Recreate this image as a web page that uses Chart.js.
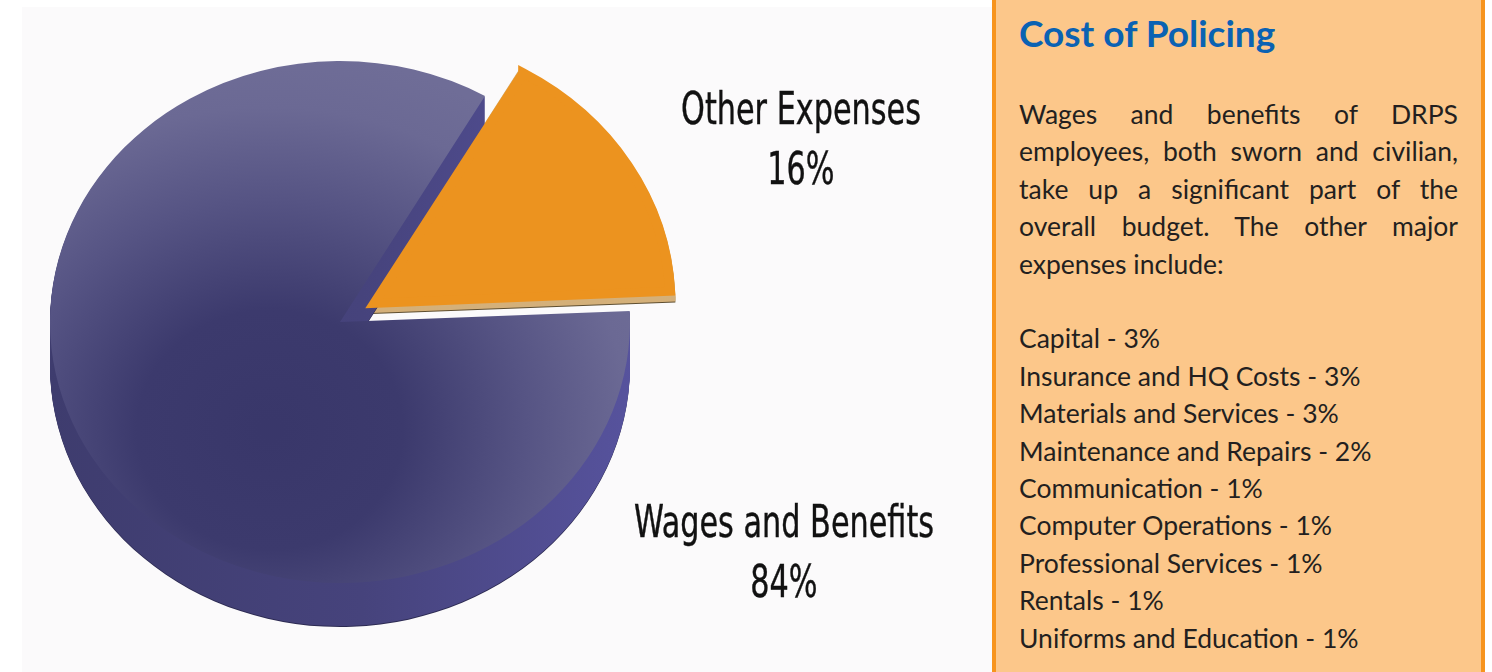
<!DOCTYPE html>
<html>
<head>
<meta charset="utf-8">
<script src="https://cdn.jsdelivr.net/npm/chart.js@4/dist/chart.umd.min.js"></script>
<style>
  html, body { margin: 0; padding: 0; background: #fff; }
  #page { position: relative; width: 1492px; height: 672px; overflow: hidden; background: #fff; }
  #stage { position: absolute; left: 22px; top: 7px; width: 970px; height: 665px; background: #fbfafb; }
  #pieBox { position: absolute; left: -35px; top: -53px; width: 750px; height: 750px; }
  .lbl {
    position: absolute; width: 400px; text-align: center;
    font-family: 'Liberation Sans Narrow', 'DejaVu Sans Condensed', sans-serif;
    font-size: 44px; line-height: 60px; color: #111;
    transform: scaleX(0.765); transform-origin: center;
    -webkit-text-stroke: 0.4px #111;
  }
  #panel {
    position: absolute; left: 992px; top: -10px; width: 485px; height: 700px;
    background: #fcc78a; border-left: 4px solid #f7941d; border-right: 4px solid #f7941d;
  }
  #title {
    position: absolute; left: 1019px; top: 11px;
    font-family: Lato, 'Open Sans', sans-serif; font-weight: 700; font-size: 37px; line-height: 1.2;
    color: #0a62b3; white-space: nowrap;
  }
  #body {
    position: absolute; left: 1019px; top: 96px; width: 439px;
    font-family: Lato, 'Open Sans', sans-serif; font-size: 26.5px; line-height: 37.4px;
    color: #231f20;
  }
  #body .jl { text-align: justify; text-align-last: justify; white-space: nowrap; }
  #body ul { list-style: none; margin: 37.4px 0 0 0; padding: 0; white-space: nowrap; }
</style>
</head>
<body>
<div id="page">
  <div id="stage"></div>
  <div id="pieBox"><canvas id="chartPie"></canvas></div>
  <div class="lbl" id="lblOther" style="left:601px; top:79px;"></div>
  <div class="lbl" id="lblWages" style="left:584px; top:492px;"></div>

  <div id="panel"></div>
  <div id="title"></div>
  <div id="body"><div id="intro"></div><ul id="breakdown"></ul></div>
</div>

<script>
// ── data ──────────────────────────────
const PIE_LABELS = ['Other Expenses', 'Wages and Benefits'];
const PIE_SHARES = [16, 84];

const PANEL_TITLE = 'Cost of Policing';
// intro paragraph, one entry per printed line
const PANEL_INTRO = [
  'Wages and benefits of DRPS',
  'employees, both sworn and civilian,',
  'take up a significant part of the',
  'overall budget. The other major',
  'expenses include:',
];
const EXP_NAMES = ['Capital', 'Insurance and HQ Costs', 'Materials and Services', 'Maintenance and Repairs',
                   'Communication', 'Computer Operations', 'Professional Services', 'Rentals', 'Uniforms and Education'];
const EXP_SHARES = [3, 3, 3, 2, 1, 1, 1, 1, 1];

// ── text side ─────────────────────────
document.getElementById('lblOther').innerHTML = `${PIE_LABELS[0]}<br>${PIE_SHARES[0]}%`;
document.getElementById('lblWages').innerHTML = `${PIE_LABELS[1]}<br>${PIE_SHARES[1]}%`;
document.getElementById('title').textContent = PANEL_TITLE;
document.getElementById('intro').innerHTML = PANEL_INTRO
  .map((l, i) => `<div class="${i < PANEL_INTRO.length - 1 ? 'jl' : ''}">${l}</div>`).join('');
document.getElementById('breakdown').innerHTML = EXP_NAMES.map((n, i) => `<li>${n} - ${EXP_SHARES[i]}%</li>`).join('');

// ── pie ───────────────────────────────
const SQUASH = 0.9;          // vertical tilt of the disc
const ORANGE = '#ec931f';

function blueFace(chart) {
  const a = chart.chartArea;
  if (!a) return '#4a4880';
  const cx = (a.left + a.right) / 2, cy = (a.top + a.bottom) / 2;
  const g = chart.ctx.createRadialGradient(cx - 70, cy + 120, 10, cx - 70, cy + 120, 420);
  g.addColorStop(0, '#39376a');
  g.addColorStop(0.3, '#3c3a6d');
  g.addColorStop(0.6, '#565484');
  g.addColorStop(0.85, '#6b6994');
  g.addColorStop(1, '#6f6d97');
  return g;
}

// same shift Chart.js applies to an exploded arc (ArcElement.draw)
function arcShift(arc) {
  const off = (arc.options.offset || 0) / 4;
  const circ = arc.endAngle - arc.startAngle;
  const fix = 1 - Math.sin(Math.min(Math.PI, circ || 0));
  return { move: off, grow: off * fix };
}

// fake 3D: extrude each slice downwards, then squash the faces into an ellipse
const pie3d = {
  id: 'pie3d',
  beforeDatasetsDraw(chart, args, opts) {
    const ctx  = chart.ctx;
    const meta = chart.getDatasetMeta(0);
    const cx = meta.data[0].x, cy = meta.data[0].y;
    const a  = chart.chartArea;

    meta.data.forEach((arc, i) => {
      const p = arc.getProps(['x', 'y', 'startAngle', 'endAngle', 'outerRadius'], true);
      const sh = arcShift(arc);
      const mid = (p.startAngle + p.endAngle) / 2;
      const ox = Math.cos(mid) * sh.move, oy = Math.sin(mid) * sh.move;
      const r = p.outerRadius + sh.grow;
      const bw = arc.options.borderWidth || 0;
      const depth = opts.depth[i];
      let side;
      if (i === 1) {
        side = ctx.createLinearGradient(a.left + 40, 0, a.right - 60, 0);
        side.addColorStop(0, '#3d3b6c');
        side.addColorStop(0.55, '#46437c');
        side.addColorStop(1, '#5854a0');
      } else {
        side = '#d4b07a';
      }
      for (let d = depth; d >= 1; d--) {
        ctx.save();
        ctx.translate(0, d);
        ctx.translate(cx, cy);
        ctx.scale(1, SQUASH);
        ctx.translate(-cx, -cy);
        ctx.beginPath();
        ctx.moveTo(p.x + ox, p.y + oy);
        ctx.arc(p.x + ox, p.y + oy, r, p.startAngle, p.endAngle);
        ctx.closePath();
        ctx.fillStyle = d === depth ? (i === 1 ? '#2c2a52' : '#5e4e30') : side;
        ctx.fill();
        if (bw) {
          ctx.lineWidth = bw;
          ctx.lineJoin = 'miter';
          ctx.strokeStyle = ctx.fillStyle;
          ctx.stroke();
        }
        ctx.restore();
      }
    });

    ctx.save();
    ctx.translate(cx, cy);
    ctx.scale(1, SQUASH);
    ctx.translate(-cx, -cy);
  },
  afterDatasetsDraw(chart) {
    chart.ctx.restore();
  }
};

new Chart(document.getElementById('chartPie'), {
  type: 'pie',
  data: {
    labels: PIE_LABELS,
    datasets: [{
      data: PIE_SHARES,
      backgroundColor: ctx => ctx.dataIndex === 0 ? ORANGE : blueFace(ctx.chart),
      borderColor: ORANGE,
      borderWidth: [10, 0],
      borderJoinStyle: 'miter',
      offset: [160, 0],
      hoverOffset: 0,
    }],
  },
  options: {
    responsive: true,
    maintainAspectRatio: false,
    animation: false,
    rotation: 30,
    layout: { padding: 0 },
    plugins: {
      legend: { display: false },
      tooltip: { enabled: false },
      pie3d: { depth: [6, 44] },
    },
  },
  plugins: [pie3d],
});
</script>
</body>
</html>
